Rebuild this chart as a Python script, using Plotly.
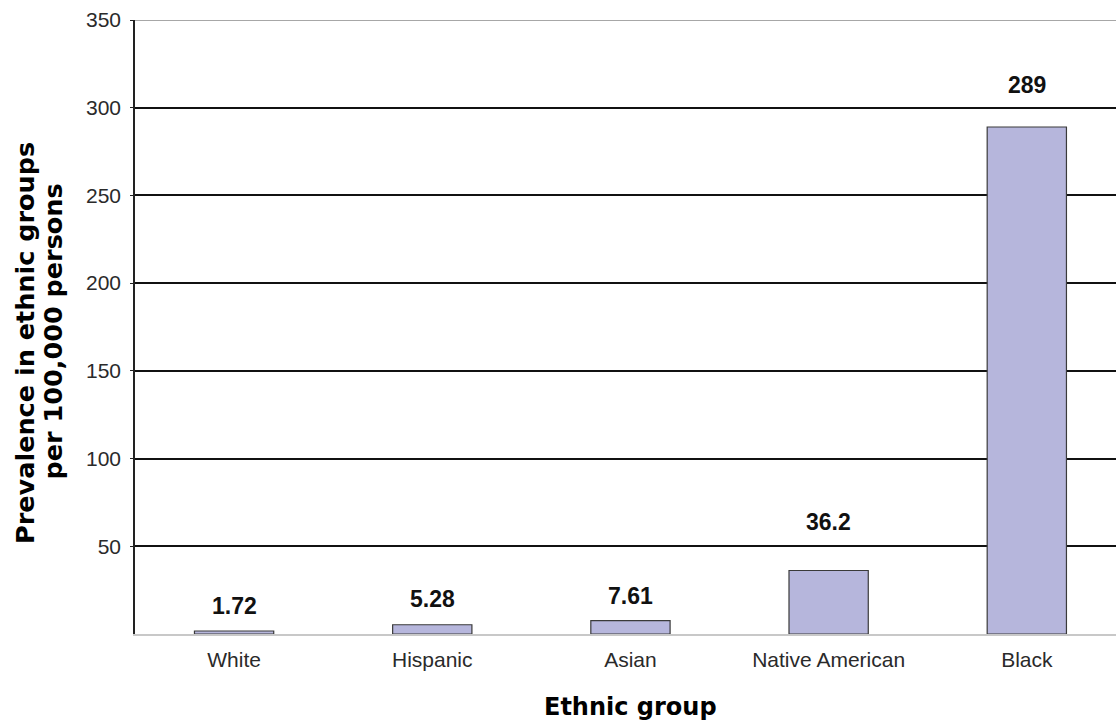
import plotly.graph_objects as go

categories = ["White", "Hispanic", "Asian", "Native American", "Black"]
values = [1.72, 5.28, 7.61, 36.2, 289]
value_labels = ["1.72", "5.28", "7.61", "36.2", "289"]
label_gaps = [25, 26, 25, 48, 42]
y_ticks = [50, 100, 150, 200, 250, 300, 350]
y_title_lines = ["Prevalence in ethnic groups", "per 100,000 persons"]
x_title = "Ethnic group"

FONT = "Liberation Sans, Arial, sans-serif"
TITLE_FONT = "DejaVu Sans, Liberation Sans, sans-serif"

fig = go.Figure()
fig.add_trace(go.Bar(
    x=list(range(len(categories))),
    y=values,
    width=0.4,
    marker=dict(color="#b6b6dc", line=dict(color="#3a3a3a", width=1.2)),
    hoverinfo="skip",
))

for i, (v, t, g) in enumerate(zip(values, value_labels, label_gaps)):
    fig.add_annotation(x=i, y=v, xref="x", yref="y", text="<b>" + t + "</b>",
                       showarrow=False, yshift=g, yanchor="middle",
                       font=dict(family=FONT, size=23, color="#111"))

# top border line at 350 (lighter)
fig.add_shape(type="line", xref="paper", yref="y", x0=0, x1=1, y0=350, y1=350,
              line=dict(color="#8a8a8a", width=1.5))

# x-axis title
fig.add_annotation(x=2, y=0, xref="x", yref="paper", text="<b>" + x_title + "</b>",
                   showarrow=False, yshift=-73, yanchor="middle",
                   font=dict(family=TITLE_FONT, size=24, color="#000"))

# y-axis title, two rotated lines
for line, yfrac, xs in zip(y_title_lines, [0.474, 0.4927], [-110, -82]):
    fig.add_annotation(x=0, y=yfrac, xref="paper", yref="paper", text="<b>" + line + "</b>",
                       showarrow=False, textangle=-90, xshift=xs,
                       xanchor="center", yanchor="middle",
                       font=dict(family=TITLE_FONT, size=25.5, color="#000"))

fig.update_layout(
    width=1116, height=721,
    margin=dict(l=135, r=0, t=20, b=87),
    paper_bgcolor="white", plot_bgcolor="white",
    showlegend=False,
    font=dict(family=FONT, size=21, color="#333"),
)
fig.update_xaxes(
    range=[-0.5, 4.45],
    tickmode="array", tickvals=list(range(len(categories))), ticktext=categories,
    showgrid=False, zeroline=False, showline=True, linecolor="#c8c8c8", linewidth=1.5,
    ticks="", tickfont=dict(family=FONT, size=21, color="#2a2a2a"), ticklabelstandoff=6,
)
fig.update_yaxes(
    range=[0, 350], tickmode="array", tickvals=y_ticks,
    showgrid=True, gridcolor="#111", gridwidth=1.5,
    zeroline=False, showline=True, linecolor="#222", linewidth=1.5,
    ticks="outside", ticklen=3, tickcolor="#222",
    tickfont=dict(family=FONT, size=21, color="#2a2a2a"), ticklabelstandoff=5,
)

fig.write_html("out.html")
